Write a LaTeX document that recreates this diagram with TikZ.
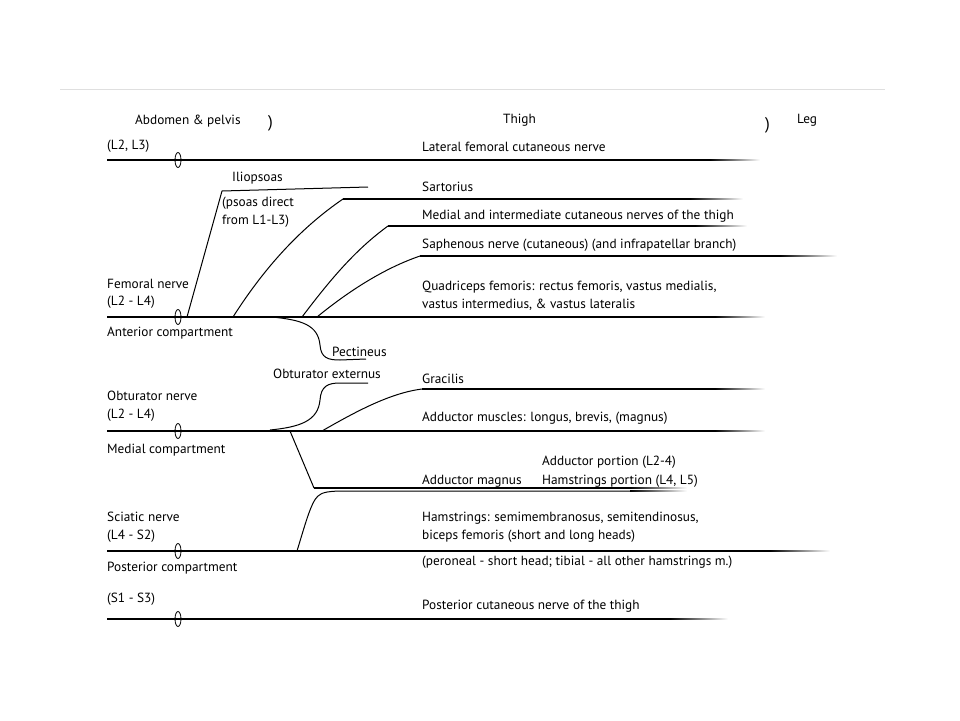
\documentclass[tikz,border=0pt]{standalone}
\usepackage{fontspec}
\setmainfont{PT Sans}
\usepackage{tikz}
\usetikzlibrary{shapes.geometric}

\begin{document}
\begin{tikzpicture}[
  x=1pt,y=-1pt,
  lbl/.style={anchor=west,inner sep=0pt,font=\fontsize{13.3}{17.5}\selectfont,align=left},
  nerve/.style={line width=1.5pt},
  twig/.style={line width=1pt},
  ring/.style={draw,ellipse,minimum width=6pt,minimum height=15pt,inner sep=0pt,line width=0.8pt},
  fadeout/.style={left color=black,right color=white}
]
\useasboundingbox (0,0) rectangle (960,720);
\draw[gray!25] (60,89) -- (885,89);

% headers
\node[lbl] (hab) at (135,121) {Abdomen \& pelvis};
\node[lbl,font=\fontsize{17}{17}\selectfont] (pa) at (268,123) {)};
\node[lbl] (hth) at (503,120) {Thigh};
\node[lbl,font=\fontsize{17}{17}\selectfont] (pb) at (765,125) {)};
\node[lbl] (hleg) at (797,120) {Leg};

% main nerves
\coordinate (l1) at (107,160);
\coordinate (fem) at (107,317);
\coordinate (obt) at (107,431);
\coordinate (sci) at (107,551);
\coordinate (pcn) at (107,619);
\draw[nerve] (l1) -- (710,160);
\draw[nerve] (fem) -- (715,317);
\draw[nerve] (obt) -- (715,431);
\draw[nerve] (sci) -- (770,551);
\draw[nerve] (pcn) -- (670,619);
\node[ring] (r1) at (178,160) {};
\node[ring] (r2) at (178,317) {};
\node[ring] (r3) at (178,431) {};
\node[ring] (r4) at (178,551) {};
\node[ring] (r5) at (178,619) {};

% femoral branches
\coordinate (ilio) at (222,191);
\coordinate (sart) at (343,199);
\coordinate (medi) at (388,226);
\coordinate (saph) at (420,256);
\draw[twig] (187,317) -- (ilio) -- (368,187);
\draw[twig] (233,317) .. controls (268,262) and (305,225) .. (sart);
\draw[nerve] (sart) -- (690,199);
\draw[twig] (302,317) .. controls (330,280) and (355,250) .. (medi);
\draw[nerve] (medi) -- (695,226);
\draw[twig] (317,317) .. controls (350,290) and (385,268) .. (saph);
\draw[nerve] (saph) -- (780,256);
\draw[twig] (272,317) .. controls (302,320) and (318,325) .. (320,345)
  .. controls (321,358) and (328,360) .. (340,360) -- (366,359);

% obturator branches
\coordinate (grac) at (422,389);
\coordinate (addm) at (314,488);
\draw[twig] (270,430) .. controls (300,427) and (318,421) .. (320,400)
  .. controls (321,386) and (328,383) .. (340,383) -- (368,383);
\draw[twig] (322,431) .. controls (355,412) and (390,393) .. (grac);
\draw[nerve] (grac) -- (715,389);
\draw[twig] (290,431) -- (addm);
\draw[nerve] (addm) -- (630,488);

% sciatic branch
\draw[twig] (297,551) .. controls (305,525) and (311,502) .. (318,496)
  .. controls (322,492) and (330,491) .. (345,491) -- (630,491);

% fading ends
\foreach \xa/\xb/\y in {710/760/160,715/765/317,715/765/431,770/830/551,670/728/619,
  690/743/199,695/747/226,780/837/256,715/765/389,630/687/488,630/687/491}
  \shade[fadeout] (\xa,\y-0.75) rectangle (\xb,\y+0.75);

% left labels
\node[lbl] (t1) at (107,146) {(L2, L3)};
\node[lbl] (tfem) at (107,294) {Femoral nerve\\(L2 - L4)};
\node[lbl] (tant) at (107,333) {Anterior compartment};
\node[lbl] (tobt) at (107,406) {Obturator nerve\\(L2 - L4)};
\node[lbl] (tmed) at (107,450) {Medial compartment};
\node[lbl] (tsci) at (107,527) {Sciatic nerve\\(L4 - S2)};
\node[lbl] (tpost) at (107,568) {Posterior compartment};
\node[lbl] (tpcn) at (107,599) {(S1 - S3)};

% middle labels
\node[lbl] (tilio) at (232,178) {Iliopsoas};
\node[lbl] (tpsoas) at (222,212) {(psoas direct\\from L1-L3)};
\node[lbl] (tpect) at (332,352) {Pectineus};
\node[lbl] (tobex) at (273,374) {Obturator externus};

% right labels
\node[lbl] (tlat) at (422,147) {Lateral femoral cutaneous nerve};
\node[lbl] (tsart) at (422,187) {Sartorius};
\node[lbl] (tmedi) at (422,216) {Medial and intermediate cutaneous nerves of the thigh};
\node[lbl] (tsaph) at (422,245) {Saphenous nerve (cutaneous) (and infrapatellar branch)};
\node[lbl] (tquad) at (422,296) {Quadriceps femoris: rectus femoris, vastus medialis,\\vastus intermedius, \& vastus lateralis};
\node[lbl] (tgrac) at (422,379) {Gracilis};
\node[lbl] (tadd) at (422,418) {Adductor muscles: longus, brevis, (magnus)};
\node[lbl] (taddp) at (542,462) {Adductor portion (L2-4)};
\node[lbl] (taddm) at (422,481) {Adductor magnus};
\node[lbl] (thamp) at (542,481) {Hamstrings portion (L4, L5)};
\node[lbl] (tham) at (422,527) {Hamstrings: semimembranosus, semitendinosus,\\biceps femoris (short and long heads)};
\node[lbl] (tper) at (422,562) {(peroneal - short head; tibial - all other hamstrings m.)};
\node[lbl] (tpcnr) at (422,606) {Posterior cutaneous nerve of the thigh};
\end{tikzpicture}
\end{document}
